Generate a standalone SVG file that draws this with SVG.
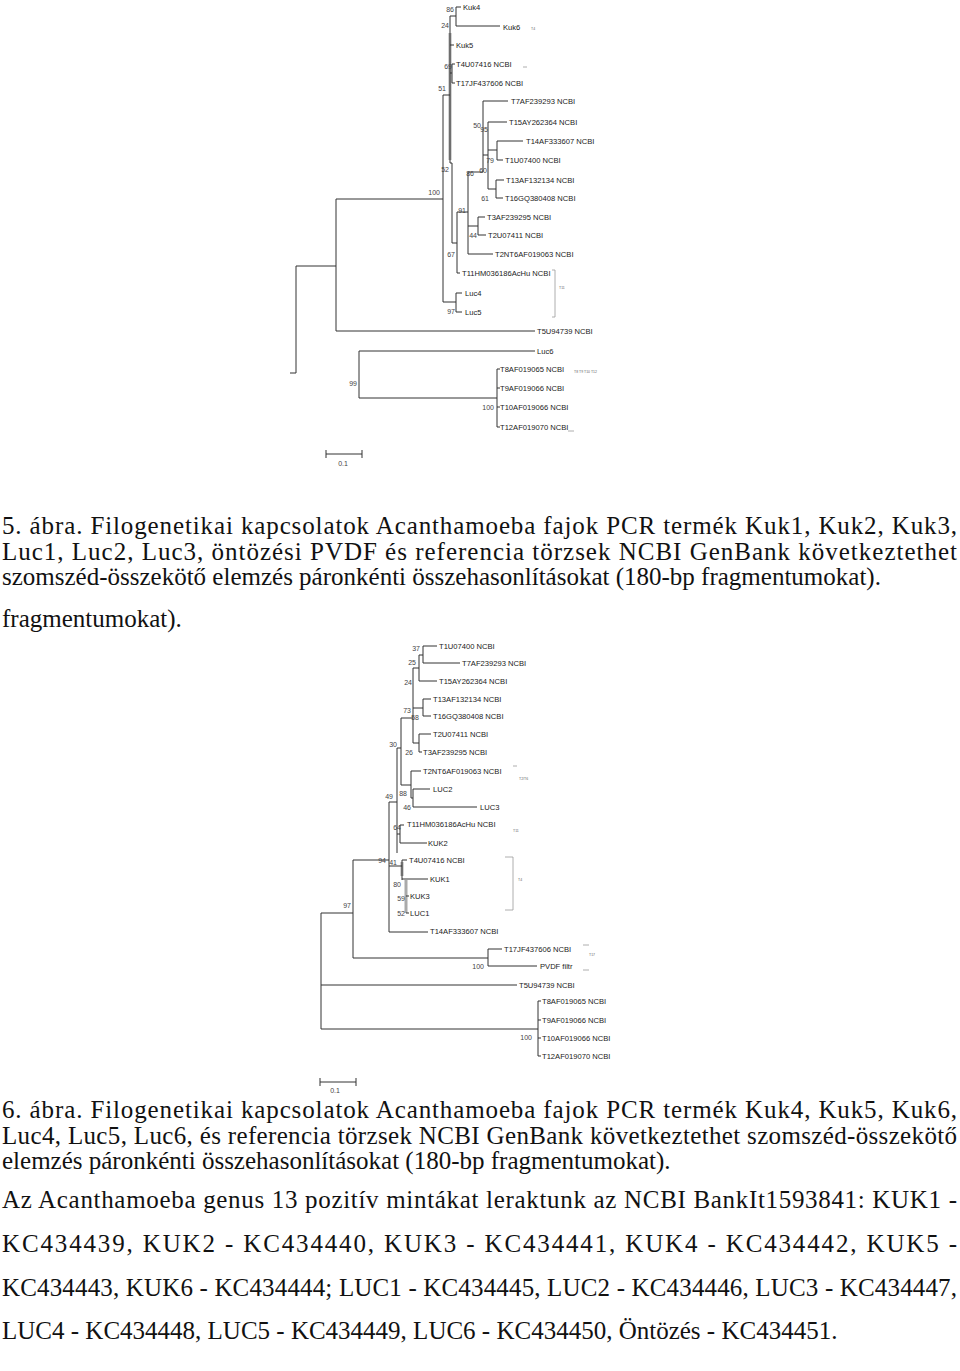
<svg xmlns="http://www.w3.org/2000/svg" width="960" height="1371" viewBox="0 0 960 1371">
<style>
.t{font-family:"Liberation Sans",Arial,sans-serif;font-size:7.6px;fill:#222}
.b{font-family:"Liberation Sans",Arial,sans-serif;font-size:7px;fill:#444}
.s{font-family:"Liberation Sans",Arial,sans-serif;font-size:3.5px;fill:#666}
.c{font-family:"Liberation Serif","Times New Roman",serif;font-size:25px;fill:#111}
.ln{fill:none;stroke:#333;stroke-width:1}
.g{fill:none;stroke:#aaa;stroke-width:3}
.br{fill:none;stroke:#999;stroke-width:0.8}
</style>
<rect width="960" height="1371" fill="#fff"/>
<g id="connectors">
<path class="g" d="M450 33V160M406 880V913M402 862V876"/>
<path class="ln" d="M296 266V373M290 373H296M296 266H336M336 199V331M336 199H443M336 331H535
M359 351V398M359 351H535M359 398H497M497 369V427M497 369H500M497 388H500M497 407H500M497 427H500
M443 95V302M443 302H456M456 293V312M456 293H462M456 312H462M443 95H450
M450 16V163M450 16H456M456 7V26M456 7H461M456 26H500M450 45H454
M450 73H452M452 64V83M452 64H455M452 83H455
M450 163H452M452 163V243M452 243H457M457 212V273M457 273H460M457 212H468
M468 172V254M468 254H493M468 226H478M478 217V235M478 217H485M478 235H486
M468 172H483M483 101V172M483 101H508M483 155H488M488 122V189M488 122H507M488 150H497M497 141V160M497 141H523M497 160H503M488 189H496M496 180V198M496 180H504M496 198H503
M326 454H362M326 450V458M362 450V458"/>
<path class="br" d="M552 270H555V317H552M523 67H527M568 431H574"/>
<path class="ln" d="M423 646V663M423 646H437M423 663H460M419 655H423M419 655V681M419 681H437M413 668H419
M423 699V716M423 699H431M423 716H431M413 708H423M419 734V752M419 734H431M419 752H422M413 743H419
M413 668V743M401 718H413M401 718V785M401 785H411M411 771V798M411 771H421M411 798H413M413 789V807M413 789H430M413 807H477
M397 748H401M397 748V853M397 834H400M400 825V843M400 825H404M400 843H427M389 802H397
M389 866H402M402 860V880M402 860H407M402 879H428M406 896H409M406 913H409
M389 802V932M389 932H428M353 860H389M353 860V958M353 958H488M488 949V966M488 949H502M488 966H537
M321 913H353M321 913V1029M321 985H517M321 1029H538M538 1001V1056M538 1001H541M538 1020H541M538 1038H541M538 1056H541
M320 1082H356M320 1078V1086M356 1078V1086"/>
<path class="br" d="M505 857H513V910H505M583 945H589M583 970H589M513 766H517"/>
</g>
<g id="tree1-labels">
<text class="t" x="463" y="10">Kuk4</text>
<text class="t" x="503" y="30">Kuk6</text>
<text class="t" x="456" y="48">Kuk5</text>
<text class="t" x="456" y="67">T4U07416 NCBI</text>
<text class="t" x="456" y="86">T17JF437606 NCBI</text>
<text class="t" x="511" y="104">T7AF239293 NCBI</text>
<text class="t" x="509" y="125">T15AY262364 NCBI</text>
<text class="t" x="526" y="144">T14AF333607 NCBI</text>
<text class="t" x="505" y="163">T1U07400 NCBI</text>
<text class="t" x="506" y="183">T13AF132134 NCBI</text>
<text class="t" x="505" y="201">T16GQ380408 NCBI</text>
<text class="t" x="487" y="220">T3AF239295 NCBI</text>
<text class="t" x="488" y="238">T2U07411 NCBI</text>
<text class="t" x="495" y="257">T2NT6AF019063 NCBI</text>
<text class="t" x="462" y="276">T11HM036186AcHu NCBI</text>
<text class="t" x="465" y="296">Luc4</text>
<text class="t" x="465" y="315">Luc5</text>
<text class="t" x="537" y="334">T5U94739 NCBI</text>
<text class="t" x="537" y="354">Luc6</text>
<text class="t" x="500" y="372">T8AF019065 NCBI</text>
<text class="t" x="500" y="391">T9AF019066 NCBI</text>
<text class="t" x="500" y="410">T10AF019066 NCBI</text>
<text class="t" x="500" y="430">T12AF019070 NCBI</text>
<text class="s" x="531" y="30">T4</text>
<text class="s" x="559" y="289">T11</text>
<text class="s" x="574" y="373">T8 T9 T10 T12</text>
<text class="b" x="343" y="466" text-anchor="middle">0.1</text>
</g>
<g id="tree1-bootstrap">
<text class="b" x="454" y="12" text-anchor="end">86</text>
<text class="b" x="449" y="28" text-anchor="end">24</text>
<text class="b" x="452" y="69" text-anchor="end">69</text>
<text class="b" x="446" y="91" text-anchor="end">51</text>
<text class="b" x="481" y="128" text-anchor="end">50</text>
<text class="b" x="488" y="132" text-anchor="end">95</text>
<text class="b" x="494" y="163" text-anchor="end">79</text>
<text class="b" x="449" y="172" text-anchor="end">52</text>
<text class="b" x="474" y="176" text-anchor="end">86</text>
<text class="b" x="487" y="173" text-anchor="end">60</text>
<text class="b" x="489" y="201" text-anchor="end">61</text>
<text class="b" x="440" y="195" text-anchor="end">100</text>
<text class="b" x="466" y="213" text-anchor="end">91</text>
<text class="b" x="477" y="238" text-anchor="end">44</text>
<text class="b" x="455" y="257" text-anchor="end">67</text>
<text class="b" x="455" y="314" text-anchor="end">97</text>
<text class="b" x="357" y="386" text-anchor="end">99</text>
<text class="b" x="494" y="410" text-anchor="end">100</text>
</g>
<g id="tree2-labels">
<text class="t" x="439" y="649">T1U07400 NCBI</text>
<text class="t" x="462" y="666">T7AF239293 NCBI</text>
<text class="t" x="439" y="684">T15AY262364 NCBI</text>
<text class="t" x="433" y="702">T13AF132134 NCBI</text>
<text class="t" x="433" y="719">T16GQ380408 NCBI</text>
<text class="t" x="433" y="737">T2U07411 NCBI</text>
<text class="t" x="423" y="755">T3AF239295 NCBI</text>
<text class="t" x="423" y="774">T2NT6AF019063 NCBI</text>
<text class="t" x="433" y="792">LUC2</text>
<text class="t" x="480" y="810">LUC3</text>
<text class="t" x="407" y="827">T11HM036186AcHu NCBI</text>
<text class="t" x="428" y="846">KUK2</text>
<text class="t" x="409" y="863">T4U07416 NCBI</text>
<text class="t" x="430" y="882">KUK1</text>
<text class="t" x="410" y="899">KUK3</text>
<text class="t" x="410" y="916">LUC1</text>
<text class="t" x="430" y="934">T14AF333607 NCBI</text>
<text class="t" x="504" y="952">T17JF437606 NCBI</text>
<text class="t" x="540" y="969">PVDF filtr</text>
<text class="t" x="519" y="988">T5U94739 NCBI</text>
<text class="t" x="542" y="1004">T8AF019065 NCBI</text>
<text class="t" x="542" y="1023">T9AF019066 NCBI</text>
<text class="t" x="542" y="1041">T10AF019066 NCBI</text>
<text class="t" x="542" y="1059">T12AF019070 NCBI</text>
<text class="s" x="519" y="780">T2/T6</text>
<text class="s" x="513" y="832">T11</text>
<text class="s" x="518" y="881">T4</text>
<text class="s" x="589" y="956">T17</text>
<text class="b" x="335" y="1093" text-anchor="middle">0.1</text>
</g>
<g id="tree2-bootstrap">
<text class="b" x="420" y="651" text-anchor="end">37</text>
<text class="b" x="416" y="665" text-anchor="end">25</text>
<text class="b" x="412" y="685" text-anchor="end">24</text>
<text class="b" x="411" y="713" text-anchor="end">73</text>
<text class="b" x="419" y="720" text-anchor="end">58</text>
<text class="b" x="397" y="747" text-anchor="end">30</text>
<text class="b" x="413" y="755" text-anchor="end">26</text>
<text class="b" x="407" y="796" text-anchor="end">88</text>
<text class="b" x="411" y="810" text-anchor="end">46</text>
<text class="b" x="393" y="799" text-anchor="end">49</text>
<text class="b" x="401" y="830" text-anchor="end">64</text>
<text class="b" x="386" y="863" text-anchor="end">94</text>
<text class="b" x="397" y="865" text-anchor="end">41</text>
<text class="b" x="401" y="887" text-anchor="end">80</text>
<text class="b" x="405" y="901" text-anchor="end">59</text>
<text class="b" x="405" y="916" text-anchor="end">52</text>
<text class="b" x="351" y="908" text-anchor="end">97</text>
<text class="b" x="484" y="969" text-anchor="end">100</text>
<text class="b" x="532" y="1040" text-anchor="end">100</text>
</g>
<g id="captions">
<text class="c" x="2" y="534" textLength="955" lengthAdjust="spacing">5. ábra. Filogenetikai kapcsolatok Acanthamoeba fajok PCR termék Kuk1, Kuk2, Kuk3,</text>
<text class="c" x="2" y="560" textLength="955" lengthAdjust="spacing">Luc1, Luc2, Luc3, öntözési PVDF és referencia törzsek NCBI GenBank következtethet</text>
<text class="c" x="2" y="585">szomszéd-összekötő elemzés páronkénti összehasonlításokat (180-bp fragmentumokat).</text>
<text class="c" x="2" y="627">fragmentumokat).</text>
<text class="c" x="2" y="1118" textLength="955" lengthAdjust="spacing">6. ábra. Filogenetikai kapcsolatok Acanthamoeba fajok PCR termék Kuk4, Kuk5, Kuk6,</text>
<text class="c" x="2" y="1144" textLength="955" lengthAdjust="spacing">Luc4, Luc5, Luc6, és referencia törzsek NCBI GenBank következtethet szomszéd-összekötő</text>
<text class="c" x="2" y="1169">elemzés páronkénti összehasonlításokat (180-bp fragmentumokat).</text>
<text class="c" x="2" y="1208" textLength="955" lengthAdjust="spacing">Az Acanthamoeba genus 13 pozitív mintákat leraktunk az NCBI BankIt1593841: KUK1 -</text>
<text class="c" x="2" y="1252" textLength="955" lengthAdjust="spacing">KC434439, KUK2 - KC434440, KUK3 - KC434441, KUK4 - KC434442, KUK5 -</text>
<text class="c" x="2" y="1296" textLength="955" lengthAdjust="spacing">KC434443, KUK6 - KC434444; LUC1 - KC434445, LUC2 - KC434446, LUC3 - KC434447,</text>
<text class="c" x="2" y="1339">LUC4 - KC434448, LUC5 - KC434449, LUC6 - KC434450, Öntözés - KC434451.</text>
</g>
</svg>
